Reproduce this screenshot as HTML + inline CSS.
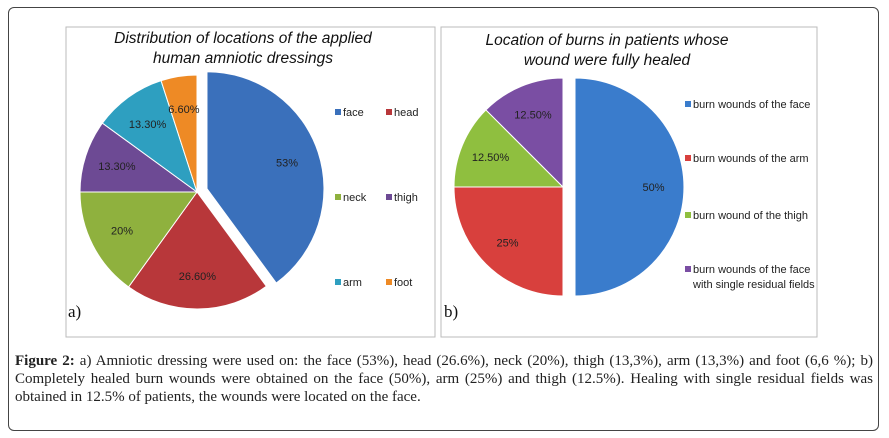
<!DOCTYPE html>
<html><head><meta charset="utf-8">
<style>
body{margin:0;background:#fff;width:889px;height:438px;overflow:hidden;position:relative;font-family:"Liberation Sans",sans-serif}
#frame{position:absolute;left:8px;top:7px;width:871px;height:424px;border:1px solid #444;border-radius:6px;box-sizing:border-box}
#cap{position:absolute;left:15px;top:352px;width:858px;font-family:"Liberation Serif",serif;font-size:15px;line-height:18px;text-align:justify;color:#222}
svg{position:absolute;left:0;top:0}
</style></head><body>
<div id="frame"></div>
<svg width="889" height="438" id="svg">
<rect x="66" y="27" width="369" height="310" fill="#fff" stroke="#bbb"/>
<rect x="441" y="27" width="376" height="310" fill="#fff" stroke="#bbb"/>
<g id="pa"></g><g id="pb"></g>
<text x="243" y="43" text-anchor="middle" font-style="italic" font-size="15.5" fill="#111">Distribution of locations of the applied</text>
<text x="243" y="63" text-anchor="middle" font-style="italic" font-size="15.5" fill="#111">human amniotic dressings</text>
<text x="607" y="45" text-anchor="middle" font-style="italic" font-size="15.5" fill="#111">Location of burns in patients whose</text>
<text x="607" y="65" text-anchor="middle" font-style="italic" font-size="15.5" fill="#111">wound were fully healed</text>
<text x="68" y="317" font-family="Liberation Serif,serif" font-size="17" fill="#111">a)</text>
<text x="444" y="317" font-family="Liberation Serif,serif" font-size="17" fill="#111">b)</text>
</svg>
<div id="cap"><b>Figure 2:</b> a) Amniotic dressing were used on: the face (53%), head (26.6%), neck (20%), thigh (13,3%), arm (13,3%) and foot (6,6 %); b) Completely healed burn wounds were obtained on the face (50%), arm (25%) and thigh (12.5%). Healing with single residual fields was obtained in 12.5% of patients, the wounds were located on the face.</div>
<script>
const catsA=["face","head","neck","thigh","arm","foot"];
const valsA=[53,26.6,20,13.3,13.3,6.6];
const labelsA=["53%","26.60%","20%","13.30%","13.30%","6.60%"];
const catsB=["burn wounds of the face","burn wounds of the arm","burn wound of the thigh","burn wounds of the face|with single residual fields"];
const valsB=[50,25,12.5,12.5];
const labelsB=["50%","25%","12.50%","12.50%"];
const colA=["#3a70bb","#b8373a","#8fb13e","#6d4a94","#2e9fc0","#ee8a25"];
const colB=["#3a7ccc","#d8403d","#8fbf3f","#7a4ea3"];
const NS="http://www.w3.org/2000/svg";
function mk(t,a,p){const e=document.createElementNS(NS,t);for(const k in a)e.setAttribute(k,a[k]);p.appendChild(e);return e;}
function pie(g,vals,labels,cols,cx,cy,r,explode,lr,key){
  const tot=vals.reduce((a,b)=>a+b,0);let a0=0;
  vals.forEach((v,i)=>{
    const a1=a0+v/tot*2*Math.PI,mid=(a0+a1)/2;
    const off=i===0?explode:0;
    const ox=cx+off*Math.sin(mid),oy=cy-off*Math.cos(mid);
    const x0=ox+r*Math.sin(a0),y0=oy-r*Math.cos(a0),x1=ox+r*Math.sin(a1),y1=oy-r*Math.cos(a1);
    const large=a1-a0>Math.PI?1:0;
    const p=mk("path",{d:`M${ox},${oy}L${x0},${y0}A${r},${r} 0 ${large} 1 ${x1},${y1}Z`,fill:cols[i],stroke:"#fff","stroke-width":1},g);
    
    
    const t=mk("text",{x:ox+lr*r*Math.sin(mid),y:oy-lr*r*Math.cos(mid)+4,"text-anchor":"middle","font-size":"11",fill:"#222"},g);
    t.textContent=labels[i];
    
    
    a0=a1;
  });
}
const pa=document.getElementById("pa"),pb=document.getElementById("pb");
pie(pa,valsA,labelsA,colA,197,192,117,10.5,0.72,"pie-a");
pie(pb,valsB,labelsB,colB,563,187,109,12,0.72,"pie-b");
catsA.forEach((c,i)=>{
  const col=i%2,row=Math.floor(i/2);
  const x=335+col*51,y=113+row*85;
  const s=mk("rect",{x:x,y:y-4,width:6,height:6,fill:colA[i]},pa);
  
  
  const t=mk("text",{x:x+8,y:y+3,"font-size":"11",fill:"#222"},pa);
  t.textContent=c;
  
  
});
const rowsB=[105,159,216,270];
catsB.forEach((c,i)=>{
  const y=rowsB[i];
  const s=mk("rect",{x:685,y:y-4,width:6,height:6,fill:colB[i]},pb);
  
  
  c.split("|").forEach((ln,j)=>{
    const t=mk("text",{x:693,y:y+3+j*15,"font-size":"11",fill:"#222"},pb);
    t.textContent=ln;
    
    
  });
});
</script>
</body></html>
